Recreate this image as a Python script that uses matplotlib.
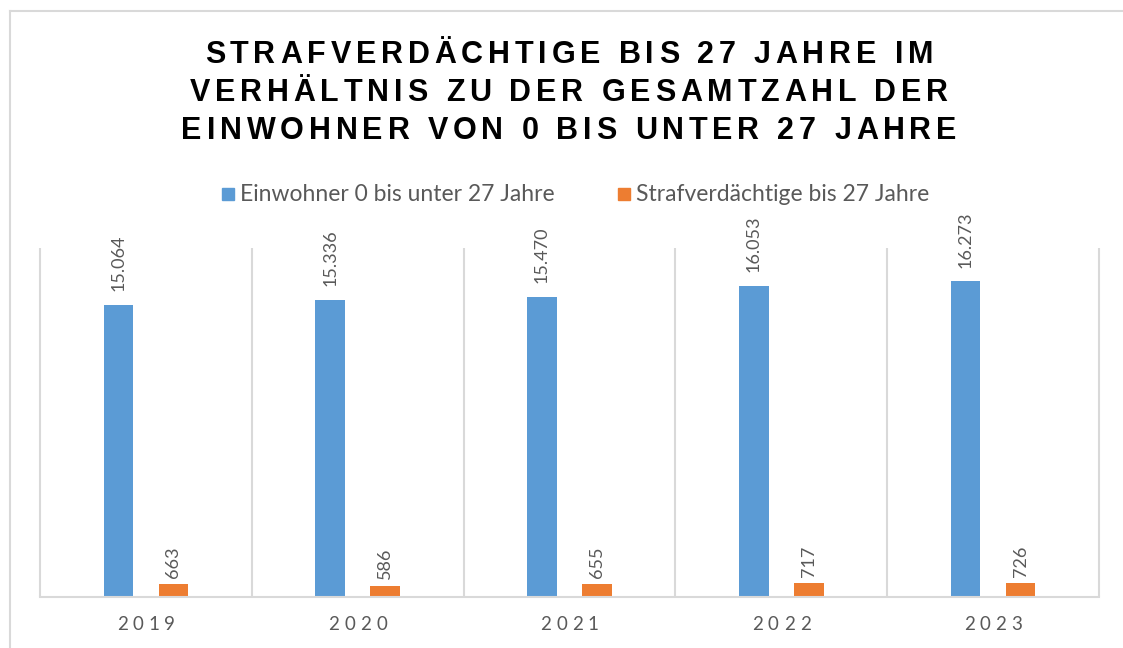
import numpy as np
import matplotlib
matplotlib.use("Agg")
from matplotlib import pyplot as plt
from matplotlib.font_manager import FontProperties, findfont
from matplotlib.ft2font import FT2Font
from matplotlib.lines import Line2D
from matplotlib.patches import Rectangle

# data
years = ["2019", "2020", "2021", "2022", "2023"]
einwohner = [15064, 15336, 15470, 16053, 16273]
verdaechtige = [663, 586, 655, 717, 726]
series_names = ["Einwohner 0 bis unter 27 Jahre", "Strafverdächtige bis 27 Jahre"]
title_lines = ["STRAFVERDÄCHTIGE BIS 27 JAHRE IM",
               "VERHÄLTNIS ZU DER GESAMTZAHL DER",
               "EINWOHNER VON 0 BIS UNTER 27 JAHRE"]

BLUE = "#5B9BD5"
ORANGE = "#ED7D31"
GREY_TXT = "#595959"
GREY_LINE = "#D9D9D9"

W, H, DPI = 1123, 648, 100
fig = plt.figure(figsize=(W / DPI, H / DPI), dpi=DPI)
fig.patch.set_facecolor("white")


def px(x, y):
    # pixel coords (origin top left) -> figure fraction
    return x / W, 1 - y / H


def spaced_text(xc, y_base, s, spacing, fp, color):
    # draw a string char by char with extra letter spacing, centred on xc
    font = FT2Font(findfont(fp))
    font.set_size(fp.get_size_in_points(), DPI)
    adv = [font.load_char(ord(c)).linearHoriAdvance / 65536 for c in s]
    total = sum(adv) + spacing * (len(s) - 1)
    x = xc - total / 2
    for c, a in zip(s, adv):
        fig.text(*px(x, y_base), c, fontproperties=fp, color=color,
                 ha="left", va="baseline")
        x += a + spacing


# chart frame
fig.add_artist(Line2D([10 / W, 10 / W], [0, 1 - 11 / H], color=GREY_LINE, lw=1.5))
fig.add_artist(Line2D([10 / W, 1], [1 - 11 / H, 1 - 11 / H], color=GREY_LINE, lw=1.5))

# title
title_fp = FontProperties(family="Liberation Sans", weight="bold", size=22)
for line, yb in zip(title_lines, [63, 101, 139]):
    spaced_text(569, yb, line, 4.8, title_fp, "black")

# plot area
ax = fig.add_axes([40 / W, 1 - 597 / H, (1099 - 40) / W, (597 - 248) / H])
x = np.arange(len(years))
off, bw = 0.13, 0.14
b1 = ax.bar(x - off, einwohner, bw, color=BLUE)
b2 = ax.bar(x + off, verdaechtige, bw, color=ORANGE)
ax.set_xlim(-0.5, len(years) - 0.5)
ax.set_ylim(0, 18000)

for sp in ["left", "right", "top"]:
    ax.spines[sp].set_visible(False)
ax.spines["bottom"].set_color(GREY_LINE)
ax.spines["bottom"].set_linewidth(1.5)
ax.set_yticks([])
ax.set_xticks([])
ax.vlines(np.arange(-0.5, len(years)), 0, 18000, color=GREY_LINE, lw=1.5,
          clip_on=False, zorder=0)

# value labels above the bars (longer labels sit a bit higher)
label_font = dict(family="Lato", size=13, color=GREY_TXT)
for bars, vals, gap in [(b1, einwohner, 10), (b2, verdaechtige, 4.5)]:
    for r, v in zip(bars, vals):
        ax.annotate(f"{v:,}".replace(",", "."),
                    (r.get_x() + r.get_width() / 2, r.get_height()),
                    xytext=(0, gap), textcoords="offset points",
                    rotation=90, ha="center", va="bottom", **label_font)

# category labels, spaced out
year_fp = FontProperties(family="Lato", size=13.5)
for xi, yr in zip(x, years):
    xd = ax.transData.transform((xi, 0))[0]
    spaced_text(xd, 630, yr, 5.0, year_fp, GREY_TXT)

# legend
leg_fp = FontProperties(family="Lato", size=16.5)
for (x0, name, col) in [(222, series_names[0], BLUE), (618, series_names[1], ORANGE)]:
    fig.add_artist(Rectangle(px(x0, 200), 12 / W, 12 / H, color=col,
                             transform=fig.transFigure))
    fig.text(*px(x0 + 18, 201), name, fontproperties=leg_fp, color=GREY_TXT,
             ha="left", va="baseline")

plt.savefig("out.png", dpi=DPI)
plt.close()
